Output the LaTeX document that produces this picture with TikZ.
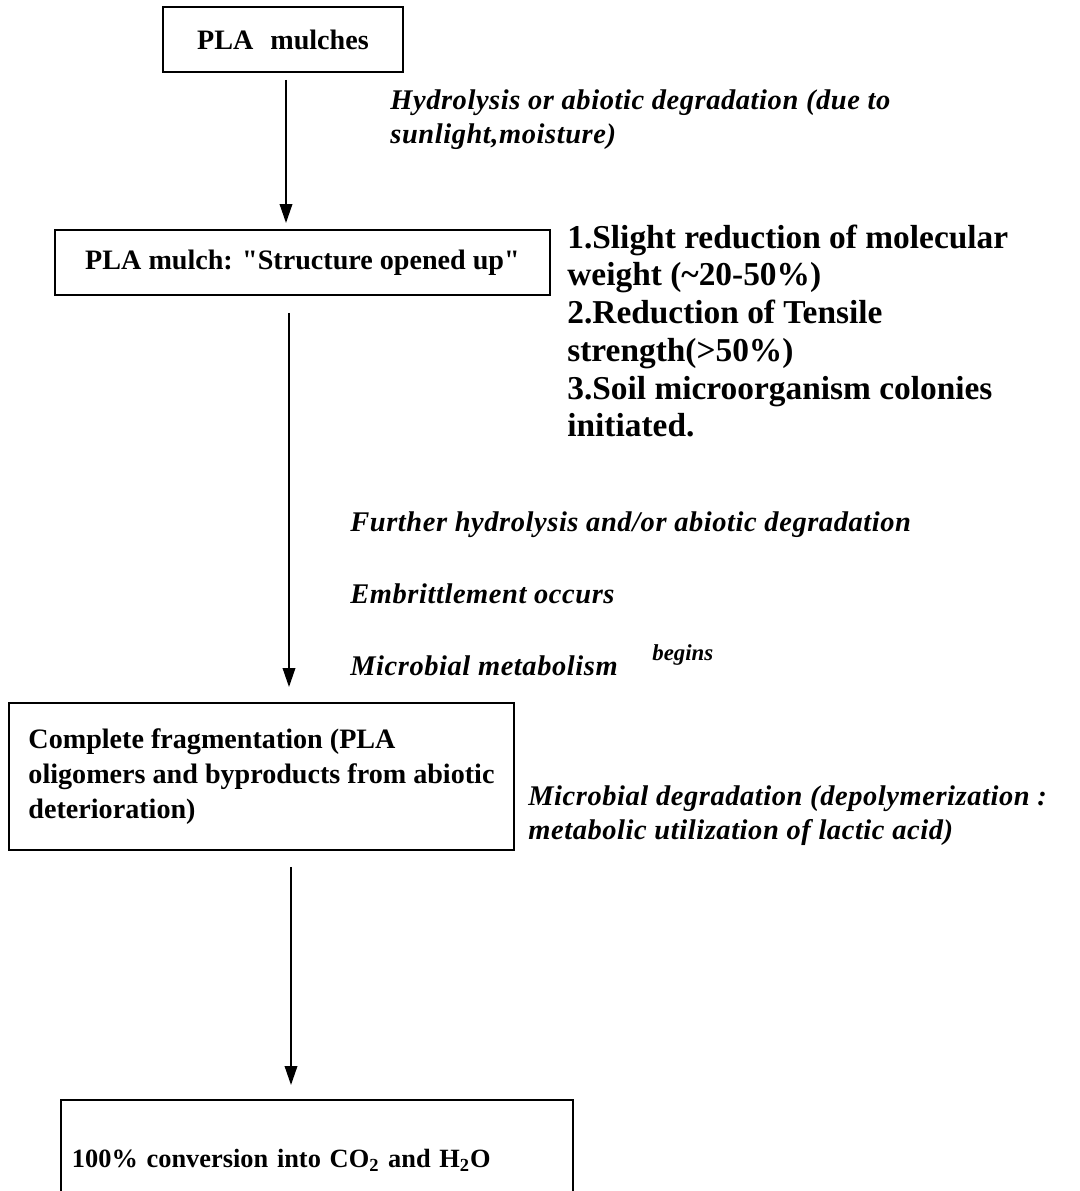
\documentclass[tikz,border=0pt]{standalone}
\usepackage{fontspec}
\setmainfont{Liberation Serif}[Ligatures=TeXOff]
\newfontfamily\wideit{Liberation Serif}[LetterSpace=2,Ligatures=TeXOff]
\usetikzlibrary{arrows.meta}

\begin{document}
\begin{tikzpicture}[x=0.2mm,y=-0.2mm,
    box/.style={draw,line width=0.38mm,inner sep=0pt,
        font=\fontsize{16}{20}\selectfont\bfseries},
    flow/.style={line width=0.38mm,-{Triangle[length=3.8mm,width=2.5mm]}},
    note/.style={anchor=west,inner sep=0pt,align=left,
        font=\fontsize{16.2}{19.5}\selectfont\wideit\bfseries\itshape},
    effectlist/.style={anchor=west,inner sep=0pt,align=left,
        font=\fontsize{19}{21.5}\selectfont\bfseries}]

            \useasboundingbox (0,0) rectangle (1079,1191);
            \clip (0,0) rectangle (1079,1191);
            % stages
            \node[box,minimum width=48mm,minimum height=13mm] (mulch) at (283,39.5) {PLA\hspace{0.6em}mulches};
            \node[box,minimum width=99mm,minimum height=13mm] (opened) at (302.5,262.5) {PLA mulch: "Structure opened up"};
            \node[box,minimum width=101mm,minimum height=29.4mm,align=left] (frag) at (261.5,776.5)
                {Complete fragmentation (PLA\\ oligomers and byproducts from abiotic\\ deterioration)};
            % last box runs off the bottom edge
            \node[box,minimum width=102.4mm,minimum height=24mm,align=left,text width=98mm,
                font=\fontsize{15}{18}\selectfont\bfseries] (final) at (317,1160)
                {100\% conversion into CO\textsubscript{2} and H\textsubscript{2}O};
            % processes beside the arrows
            \node[note] (hydro) at (390,120) {Hydrolysis or abiotic degradation (due to\\ sunlight,moisture)};
            \node[effectlist] (effects) at (567,331) {1.Slight reduction of molecular\\ weight (\textasciitilde20-50\%)\\ 2.Reduction of Tensile\\ strength(>50\%)\\ 3.Soil microorganism colonies\\ initiated.};
            \node[note] (further) at (350,525) {Further hydrolysis and/or abiotic degradation};
            \node[note] (embrit) at (350,594) {Embrittlement occurs};
            \node[note] (metab) at (350,666) {Microbial metabolism};
            \node[anchor=west,inner sep=0pt,font=\fontsize{13}{15}\selectfont\bfseries\itshape] (begins) at (652,655) {begins};
            \node[note] (microdeg) at (528,816) {Microbial degradation (depolymerization :\\ metabolic utilization of lactic acid)};
            % arrows between stages
            \draw[flow,shorten <=1.4mm,shorten >=1.2mm] ([xshift=0.6mm]mulch.south) -- ([xshift=0.6mm]mulch.south |- opened.north);
            \draw[flow,shorten <=3.4mm,shorten >=3mm] ([xshift=-2.7mm]opened.south) -- ([xshift=-2.7mm]opened.south |- frag.north);
            \draw[flow,shorten <=3.2mm,shorten >=2.8mm] ([xshift=5.9mm]frag.south) -- ([xshift=5.9mm]frag.south |- final.north);
        \end{tikzpicture}
\end{document}
